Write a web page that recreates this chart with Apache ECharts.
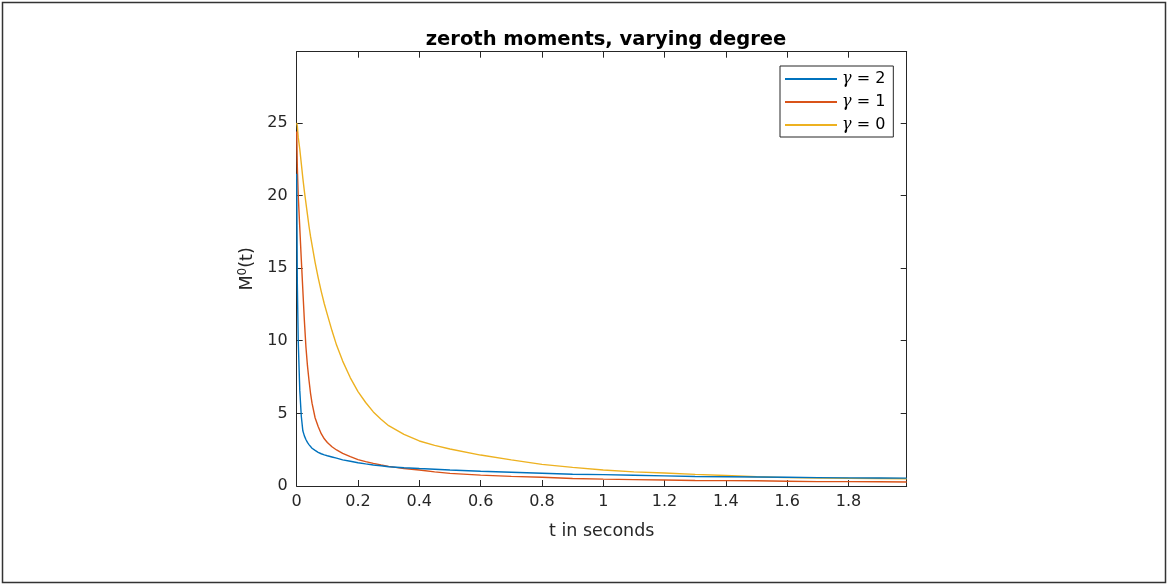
<!DOCTYPE html>
<html>
<head>
<meta charset="utf-8">
<script src="https://cdn.jsdelivr.net/npm/echarts@6/dist/echarts.min.js"></script>
<style>
html,body{margin:0;padding:0;background:#fff;}
#c{width:1168px;height:585px;}
</style>
</head>
<body>
<div id="c"></div>
<script>
// time samples (seconds)
var tValues = [0, 0.002, 0.005, 0.01, 0.015, 0.02, 0.025, 0.03, 0.035, 0.04, 0.045, 0.05, 0.06, 0.07, 0.08, 0.09, 0.1, 0.115, 0.13, 0.15, 0.175, 0.2, 0.225, 0.25, 0.275, 0.3, 0.35, 0.4, 0.45, 0.5, 0.6, 0.7, 0.8, 0.9, 1.0, 1.1, 1.2, 1.3, 1.4, 1.5, 1.6, 1.7, 1.8, 1.9, 1.99];
// gamma = 2
var gamma2 = [21.5, 14, 10, 6.6, 4.8, 3.8, 3.45, 3.2, 3.0, 2.85, 2.72, 2.6, 2.45, 2.32, 2.22, 2.14, 2.08, 2.0, 1.92, 1.8, 1.7, 1.6, 1.52, 1.45, 1.39, 1.33, 1.26, 1.2, 1.15, 1.1, 1.02, 0.95, 0.88, 0.81, 0.78, 0.74, 0.7, 0.65, 0.64, 0.62, 0.6, 0.58, 0.56, 0.55, 0.54];
// gamma = 1
var gamma1 = [24.4, 22, 20, 17.8, 15.6, 13.5, 11.4, 9.6, 8.3, 7.3, 6.4, 5.7, 4.7, 4.1, 3.6, 3.25, 3.0, 2.7, 2.48, 2.25, 2.02, 1.82, 1.68, 1.56, 1.45, 1.35, 1.2, 1.1, 0.97, 0.87, 0.75, 0.66, 0.6, 0.52, 0.47, 0.44, 0.41, 0.38, 0.37, 0.36, 0.33, 0.3, 0.3, 0.29, 0.28];
// gamma = 0
var gamma0 = [25.0, 24.8, 24.0, 23.2, 22.2, 21.2, 20.3, 19.5, 18.7, 17.9, 17.2, 16.6, 15.4, 14.35, 13.4, 12.55, 11.8, 10.7, 9.7, 8.6, 7.45, 6.5, 5.75, 5.1, 4.6, 4.15, 3.55, 3.1, 2.8, 2.55, 2.13, 1.8, 1.49, 1.28, 1.1, 0.97, 0.9, 0.8, 0.72, 0.64, 0.58, 0.55, 0.53, 0.52, 0.5];
var seriesNames = ['γ = 2', 'γ = 1', 'γ = 0'];
var seriesColors = ['#0072BD', '#D95319', '#EDB120'];
var titleText = 'zeroth moments, varying degree';
var xName = 't in seconds';

function pairs(ys) { return tValues.map(function (t, i) { return [t, ys[i]]; }); }
var allData = [gamma2, gamma1, gamma0];

var font = 'DejaVu Sans';
var axisColor = '#262626';
var chart = echarts.init(document.getElementById('c'));
var xCommon = {
  type: 'value', min: 0, max: 1.99, interval: 0.2,
  axisLine: { show: true, onZero: false, lineStyle: { color: axisColor, width: 1 } },
  axisTick: { show: true, inside: true, length: 6, lineStyle: { color: axisColor } },
  splitLine: { show: false }
};
var yCommon = {
  type: 'value', min: 0, max: 29.9, interval: 5,
  axisLine: { show: true, onZero: false, lineStyle: { color: axisColor, width: 1 } },
  axisTick: { show: true, inside: true, length: 6, lineStyle: { color: axisColor } },
  splitLine: { show: false }
};
chart.setOption({
  animation: false,
  backgroundColor: '#fff',
  graphic: [{
    type: 'rect', shape: { x: 2.5, y: 2.5, width: 1163, height: 580 },
    style: { fill: 'none', stroke: '#333', lineWidth: 1.5 }, z: -1, silent: true
  }],
  title: {
    text: titleText, left: 601, top: 25, textAlign: 'center',
    textStyle: { fontFamily: font, fontWeight: 'bold', fontSize: 19.5, color: '#000' }
  },
  grid: { left: 296.7, right: 261.3, top: 51.7, bottom: 99, containLabel: false },
  legend: {
    data: seriesNames, orient: 'vertical', left: 780, top: 66,
    backgroundColor: '#fff', borderColor: axisColor, borderWidth: 1,
    padding: [5, 8, 4, 5], itemWidth: 52, itemHeight: 2, itemGap: 7, icon: 'rect',
    formatter: function (n) { return '{g|γ}' + n.slice(1); },
    textStyle: {
      fontFamily: font, fontSize: 16, color: '#000', lineHeight: 16,
      rich: { g: { fontFamily: 'DejaVu Serif', fontStyle: 'italic', fontSize: 16, color: '#000' } }
    }
  },
  xAxis: [
    Object.assign({}, xCommon, {
      position: 'bottom',
      name: xName, nameLocation: 'middle', nameGap: 36,
      nameTextStyle: { fontFamily: font, fontSize: 17.5, color: axisColor },
      axisLabel: { fontFamily: font, fontSize: 16, color: axisColor, margin: 8, showMaxLabel: false }
    }),
    Object.assign({}, xCommon, { position: 'top', axisLabel: { show: false } })
  ],
  yAxis: [
    Object.assign({}, yCommon, {
      position: 'left',
      name: '{a|M}{s|0}{a|(t)}', nameLocation: 'middle', nameGap: 37, nameRotate: 90,
      nameTextStyle: {
        rich: {
          a: { fontFamily: font, fontSize: 17.5, color: axisColor },
          s: { fontFamily: font, fontSize: 12, color: axisColor, padding: [0, 0, 10, 0] }
        }
      },
      axisLabel: { fontFamily: font, fontSize: 16, color: axisColor, margin: 9, showMaxLabel: false }
    }),
    Object.assign({}, yCommon, { position: 'right', axisLabel: { show: false } })
  ],
  series: allData.map(function (ys, i) {
    return {
      name: seriesNames[i], type: 'line', data: pairs(ys),
      xAxisIndex: 0, yAxisIndex: 0,
      showSymbol: false, symbol: 'none', smooth: false,
      lineStyle: { color: seriesColors[i], width: 1.4 },
      itemStyle: { color: seriesColors[i] }, z: 3 - i + 2
    };
  })
});
</script>
</body>
</html>
